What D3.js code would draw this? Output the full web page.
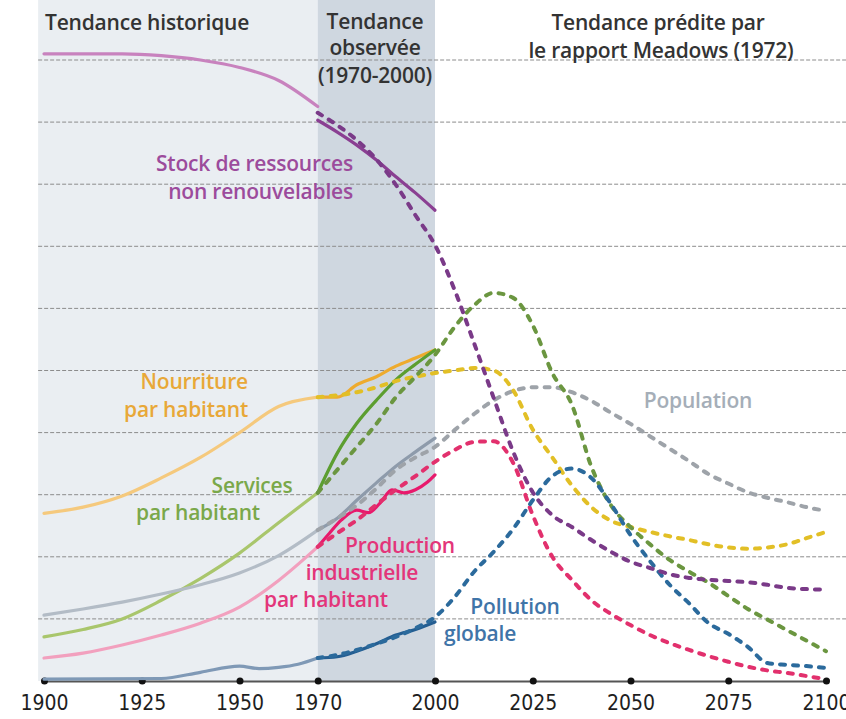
<!DOCTYPE html>
<html>
<head>
<meta charset="utf-8">
<script src="https://cdn.jsdelivr.net/npm/d3@7"></script>
<style>
  body { margin: 0; background: #fff; }
  text { font-family: "Open Sans", "Noto Sans", sans-serif; }
</style>
</head>
<body>
<script>
// années de l'axe
let tickYears = [1900, 1925, 1950, 1970, 2000, 2025, 2050, 2075, 2100]

// tendance historique (1900-1970)
let histYears = [1900, 1910, 1920, 1930, 1940, 1950, 1960, 1970]
let ressourcesHist = [10.1, 10.1, 10.1, 10.07, 10.0, 9.88, 9.67, 9.25]
let nourritureHist = [2.7, 2.8, 2.98, 3.27, 3.6, 4.0, 4.42, 4.57]
let servicesHist = [0.71, 0.83, 1.0, 1.3, 1.65, 2.06, 2.55, 3.03]
let populationHist = [1.06, 1.16, 1.27, 1.4, 1.55, 1.74, 2.02, 2.43]
let productionHist = [0.37, 0.45, 0.58, 0.74, 0.93, 1.19, 1.62, 2.16]
let pollutionHistYears = [1900, 1930, 1940, 1950, 1955, 1960, 1965, 1970]
let pollutionHist = [0.03, 0.04, 0.14, 0.24, 0.2, 0.22, 0.27, 0.37]

// tendance observée (1970-2000)
let obsYears = [1970, 1975, 1980, 1985, 1990, 1995, 2000]
let ressourcesObs = [9.03, 8.84, 8.63, 8.39, 8.12, 7.86, 7.58]
let nourritureObs = [4.57, 4.57, 4.77, 4.9, 5.07, 5.2, 5.33]
let servicesObs = [3.03, 3.67, 4.15, 4.52, 4.85, 5.1, 5.33]
let populationObs = [2.43, 2.62, 2.91, 3.19, 3.46, 3.69, 3.91]
let pollutionObs = [0.37, 0.39, 0.48, 0.6, 0.74, 0.83, 0.95]
let productionObsYears = [1970, 1973, 1976, 1980, 1983, 1986, 1989, 1992, 1995, 1998, 2000]
let productionObs = [2.16, 2.38, 2.59, 2.75, 2.71, 2.87, 3.08, 3.03, 3.08, 3.2, 3.32]

// tendance prédite par le rapport Meadows
let modelYears = [1970, 1975, 1980, 1985, 1990, 1995, 2000, 2005, 2010, 2015, 2020, 2025, 2030,
  2035, 2040, 2045, 2050, 2055, 2060, 2065, 2070, 2075, 2080, 2085, 2090, 2095, 2100]
let ressourcesModel = [9.15, 8.95, 8.71, 8.4, 7.99, 7.5, 7.02, 6.3, 5.44, 4.56, 3.69, 3.04, 2.67,
  2.48, 2.27, 2.08, 1.92, 1.82, 1.72, 1.66, 1.63, 1.61, 1.59, 1.55, 1.5, 1.48, 1.47]
let nourritureModel = [4.57, 4.6, 4.65, 4.73, 4.83, 4.9, 4.96, 5.0, 5.04, 5.0, 4.68, 4.05, 3.6,
  3.15, 2.8, 2.58, 2.48, 2.4, 2.33, 2.27, 2.2, 2.15, 2.13, 2.15, 2.2, 2.3, 2.4]
let servicesModel = [3.03, 3.4, 3.77, 4.14, 4.57, 4.9, 5.25, 5.7, 6.05, 6.25, 6.17, 5.73, 4.96,
  4.45, 3.45, 2.83, 2.48, 2.2, 1.95, 1.76, 1.58, 1.37, 1.16, 0.99, 0.82, 0.65, 0.48]
let populationModel = [2.43, 2.62, 2.83, 3.1, 3.4, 3.6, 3.77, 4.04, 4.3, 4.52, 4.67, 4.73, 4.73,
  4.65, 4.51, 4.32, 4.14, 3.94, 3.74, 3.54, 3.33, 3.18, 3.04, 2.95, 2.88, 2.8, 2.74]
let productionModel = [2.16, 2.38, 2.59, 2.84, 3.08, 3.3, 3.53, 3.72, 3.85, 3.86, 3.51, 2.67, 2.0,
  1.63, 1.3, 1.08, 0.9, 0.74, 0.61, 0.5, 0.4, 0.31, 0.23, 0.17, 0.13, 0.08, 0.03]
let pollutionModel = [0.37, 0.42, 0.5, 0.6, 0.71, 0.85, 1.03, 1.35, 1.76, 2.08, 2.45, 2.91, 3.3,
  3.42, 3.27, 2.85, 2.35, 1.93, 1.55, 1.25, 0.93, 0.76, 0.55, 0.29, 0.26, 0.24, 0.21]

let width = 846, height = 719

let svg = d3.select("body").append("svg")
  .attr("width", width)
  .attr("height", height)

let x = d3.scaleLinear().domain([1900, 2100]).range([44, 826])
let y = d3.scaleLinear().domain([0, 10]).range([681, 60])

// zones grisées : historique puis observée
svg.append("rect")
  .attr("x", x(1898.5)).attr("y", 0)
  .attr("width", x(1970) - x(1898.5)).attr("height", y(0))
  .attr("fill", "#eaeef2")
svg.append("rect")
  .attr("x", x(1970)).attr("y", 0)
  .attr("width", x(2000) - x(1970)).attr("height", y(0))
  .attr("fill", "#cfd7e0")

// lignes de grille pointillées
svg.append("g").selectAll("line")
  .data(d3.range(1, 11))
  .enter().append("line")
  .attr("x1", x(1898.5)).attr("x2", width)
  .attr("y1", d => y(d)).attr("y2", d => y(d))
  .attr("stroke", "#8c8c8c")
  .attr("stroke-width", 1)
  .attr("stroke-dasharray", "4,2")

// axe horizontal
let xAxis = d3.axisBottom(x)
  .tickValues(tickYears)
  .tickFormat(d3.format("d"))
  .tickSize(0)
  .tickPadding(14)
let axis = svg.append("g")
  .attr("transform", `translate(0,${y(0)})`)
  .call(xAxis)
axis.select(".domain").attr("stroke", "#555").attr("stroke-width", 2)
axis.selectAll(".tick text")
  .attr("fill", "#1e1e1e")
  .style("font-family", "'Liberation Sans Narrow', 'DejaVu Sans Condensed', sans-serif")
  .style("font-size", "21px")
axis.selectAll(".tick").append("circle")
  .attr("r", 3.5).attr("fill", "#111")

let line = (xs, ys) => d3.line()
  .x((d, i) => x(xs[i]))
  .y(d => y(d))
  .curve(d3.curveMonotoneX)(ys)

function draw(xs, ys, color, w, dashed) {
  svg.append("path")
    .attr("d", line(xs, ys))
    .attr("fill", "none")
    .attr("stroke", color)
    .attr("stroke-width", w)
    .attr("stroke-linecap", "round")
    .attr("stroke-dasharray", dashed ? "5,8" : null)
}

// courbes historiques
draw(histYears, ressourcesHist, "#c882be", 3.2)
draw(histYears, nourritureHist, "#f5c97d", 3.2)
draw(histYears, servicesHist, "#a9c66c", 3.2)
draw(histYears, populationHist, "#b3bcc6", 3.2)
draw(histYears, productionHist, "#f2a0be", 3.2)
draw(pollutionHistYears, pollutionHist, "#7f99b6", 3.2)

// courbes observées
draw(obsYears, ressourcesObs, "#8a3f92", 3.2)
draw(obsYears, nourritureObs, "#eeab2e", 3.2)
draw(obsYears, servicesObs, "#5c9e30", 3.2)
draw(obsYears, populationObs, "#8e9bab", 3.2)
draw(productionObsYears, productionObs, "#e8196c", 3.2)
draw(obsYears, pollutionObs, "#245e92", 3.2)

// courbes du modèle (pointillés)
draw(modelYears, populationModel, "#9ea3a9", 4, true)
draw(modelYears, nourritureModel, "#e2bf26", 4, true)
draw(modelYears, servicesModel, "#6b9640", 4, true)
draw(modelYears, productionModel, "#e2306d", 4, true)
draw(modelYears, pollutionModel, "#2b6a9c", 4, true)
draw(modelYears, ressourcesModel, "#7a3a88", 4, true)

// textes
function label(lines, color, anchor) {
  lines.forEach(l => {
    svg.append("text")
      .attr("x", l[0]).attr("y", l[1])
      .attr("text-anchor", anchor || "middle")
      .attr("fill", color)
      .style("font-size", "21px")
      .style("font-weight", 600)
      .style("letter-spacing", "-0.2px")
      .text(l[2])
  })
}

label([[45, 30, "Tendance historique"]], "#333", "start")
label([[375, 29, "Tendance"], [375, 55, "observée"], [375, 83, "(1970-2000)"]], "#333")
label([[658, 30, "Tendance prédite par"], [661, 58, "le rapport Meadows (1972)"]], "#333")
label([[353, 171, "Stock de ressources"], [353, 199, "non renouvelables"]], "#9c4b9c", "end")
label([[248, 389, "Nourriture"], [248, 417, "par habitant"]], "#e8a838", "end")
label([[698, 408, "Population"]], "#a5aeb8")
label([[252, 493, "Services"], [198, 520, "par habitant"]], "#7aa84a")
label([[400, 553, "Production"], [362, 580, "industrielle"], [326, 607, "par habitant"]], "#e3357a")
label([[515, 614, "Pollution"], [480, 641, "globale"]], "#3f74a8")
</script>
</body>
</html>
